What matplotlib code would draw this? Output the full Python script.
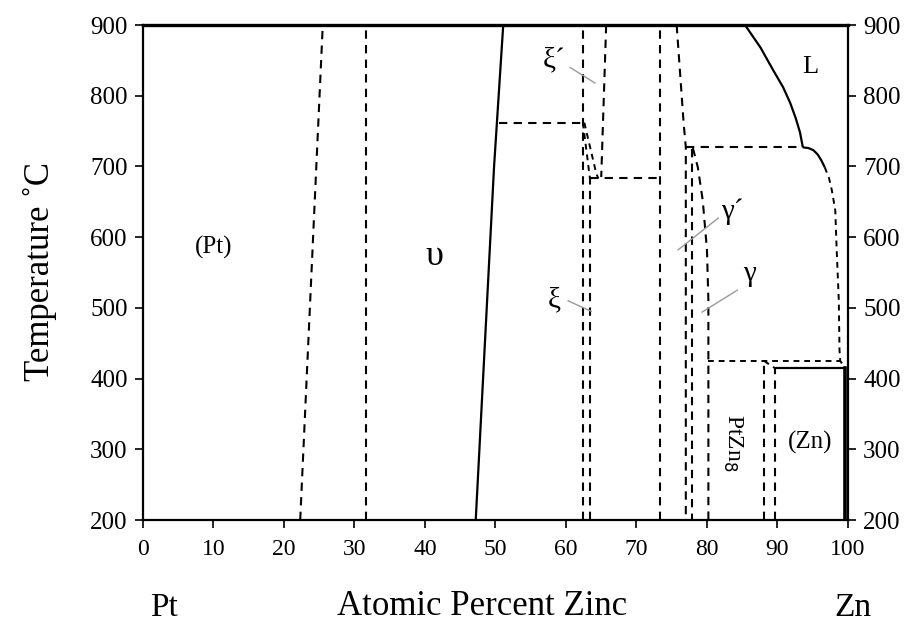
import matplotlib
matplotlib.use("Agg")
import matplotlib.pyplot as plt

plt.rcParams['font.family'] = ['Liberation Serif', 'DejaVu Serif']

# ---- data (at.% Zn, temperature °C) ----
x_ticks = [0, 10, 20, 30, 40, 50, 60, 70, 80, 90, 100]
y_ticks = [200, 300, 400, 500, 600, 700, 800, 900]

# solid boundaries
upsilon_x = [47.2, 48.5, 49.8, 51.1]
upsilon_t = [200, 450, 700, 900]
liquidus_x = [85.4, 87.6, 89.4, 90.8, 91.8, 92.6, 93.2, 93.6]
liquidus_t = [900, 868, 836, 812, 790, 768, 748, 727]
liq_right_x = [93.6, 94.4, 95.1, 95.7, 96.2, 96.7]
liq_right_t = [727, 726, 723, 717, 709, 699]
eut_x = [89.6, 99.6]
eut_t = [415, 415]
zn_x = [99.6, 99.6]
zn_t = [415, 200]

# dashed boundaries
pt_solvus_x = [22.3, 25.5]
pt_solvus_t = [200, 900]
v31_x = [31.6, 31.6]
v31_t = [200, 900]
xi_left_x = [62.4, 62.4]
xi_left_t = [200, 900]
h762_x = [50.5, 62.4]
h762_t = [762, 762]
diag1_x = [62.4, 63.4]
diag1_t = [762, 683]
diag2_x = [62.6, 64.3, 64.6]
diag2_t = [762, 690, 683]
xi_right_x = [63.4, 63.4]
xi_right_t = [200, 683]
h683_x = [63.4, 73.4]
h683_t = [683, 683]
xip_right_x = [65.7, 65.0]
xip_right_t = [900, 685]
v73_x = [73.4, 73.4]
v73_t = [200, 900]
g_left_x = [75.7, 76.2, 76.7, 77.0, 77.0]
g_left_t = [900, 830, 760, 727, 200]
h727_x = [77.0, 93.6]
h727_t = [727, 727]
v78_x = [77.9, 77.9]
v78_t = [725, 200]
gamma_x = [78.0, 78.7, 79.4, 80.0, 80.2, 80.2, 80.2]
gamma_t = [726, 699, 652, 582, 511, 425, 200]
liq_dash_x = [96.7, 97.3, 97.7, 98.2, 98.4, 98.7, 98.8, 98.9, 99.6]
liq_dash_t = [699, 684, 667, 638, 582, 511, 440, 425, 415]
h425_x = [80.2, 98.9]
h425_t = [425, 425]
ptzn8_left_x = [88.1, 88.1]
ptzn8_left_t = [200, 425]
ptzn8_diag_x = [88.1, 89.6]
ptzn8_diag_t = [425, 415]
zn_left_x = [89.6, 89.6]
zn_left_t = [200, 415]

# leader lines (gray)
lead_xip_x = [60.6, 64.1]
lead_xip_t = [840, 818]
lead_xi_x = [60.3, 63.6]
lead_xi_t = [510, 495]
lead_gp_x = [75.9, 81.6]
lead_gp_t = [582, 627]
lead_g_x = [79.3, 84.3]
lead_g_t = [494, 525]

# labels: (text, x, T, rotation, size)
labels = [
    ("(Pt)", 10.0, 586, 0, 18),
    ("υ", 41.4, 573, 0, 26),
    ("ξ´", 58.3, 850, 0, 21),
    ("ξ", 58.3, 510, 0, 21),
    ("γ´", 83.6, 636, 0, 21),
    ("γ", 86.1, 548, 0, 21),
    ("L", 94.6, 840, 0, 19),
    ("PtZn$_8$", 83.7, 309, 270, 17),
    ("(Zn)", 94.6, 310, 0, 18),
]

fig = plt.figure(figsize=(9.19, 6.32), dpi=100)
ax = fig.add_axes([0.1556, 0.1772, 0.7671, 0.7832])

solid_kw = dict(color='black', lw=1.6, solid_capstyle='butt')
dash_kw = dict(color='black', lw=1.5, linestyle=(0, (4, 3)))
fine_kw = dict(color='black', lw=1.4, linestyle=(0, (3, 2.5)))

ax.plot(upsilon_x, upsilon_t, **solid_kw)
ax.plot(liquidus_x, liquidus_t, **solid_kw)
ax.plot(liq_right_x, liq_right_t, **solid_kw)
ax.plot(eut_x, eut_t, **solid_kw)
ax.plot(zn_x, zn_t, color='black', lw=2.6)

for xs, ts in [(pt_solvus_x, pt_solvus_t), (v31_x, v31_t), (xi_left_x, xi_left_t),
               (h762_x, h762_t), (xi_right_x, xi_right_t), (h683_x, h683_t),
               (xip_right_x, xip_right_t), (v73_x, v73_t), (g_left_x, g_left_t),
               (h727_x, h727_t), (v78_x, v78_t), (gamma_x, gamma_t),
               (ptzn8_left_x, ptzn8_left_t), (zn_left_x, zn_left_t)]:
    ax.plot(xs, ts, **dash_kw)
for xs, ts in [(diag1_x, diag1_t), (diag2_x, diag2_t), (liq_dash_x, liq_dash_t),
               (h425_x, h425_t), (ptzn8_diag_x, ptzn8_diag_t)]:
    ax.plot(xs, ts, **fine_kw)

for xs, ts in [(lead_xip_x, lead_xip_t), (lead_xi_x, lead_xi_t),
               (lead_gp_x, lead_gp_t), (lead_g_x, lead_g_t)]:
    ax.plot(xs, ts, color='#999999', lw=1.0)

for txt, x, t, rot, sz in labels:
    ax.text(x, t, txt, rotation=rot, fontsize=sz, ha='center', va='center')

ax.set_xlim(0, 100)
ax.set_ylim(200, 900)
ax.set_xticks(x_ticks)
ax.set_yticks(y_ticks)
ax.tick_params(axis='both', direction='out', length=6, width=1.2,
               right=True, labelright=True)
ax.tick_params(axis='y', labelsize=18, pad=5)
ax.tick_params(axis='x', labelsize=17, pad=8)
for s in ax.spines.values():
    s.set_linewidth(1.6)
ax.spines['top'].set_linewidth(2.4)

fig.text(40 / 919, 0.57, "Temperature ˚C", fontsize=25, rotation=90,
         ha='center', va='center')
fig.text(0.178, 0.015, "Pt", fontsize=24, ha='center', va='bottom')
fig.text(0.525, 0.015, "Atomic Percent Zinc", fontsize=25, ha='center', va='bottom')
fig.text(0.928, 0.015, "Zn", fontsize=24, ha='center', va='bottom')

fig.savefig("out.png", dpi=100)
